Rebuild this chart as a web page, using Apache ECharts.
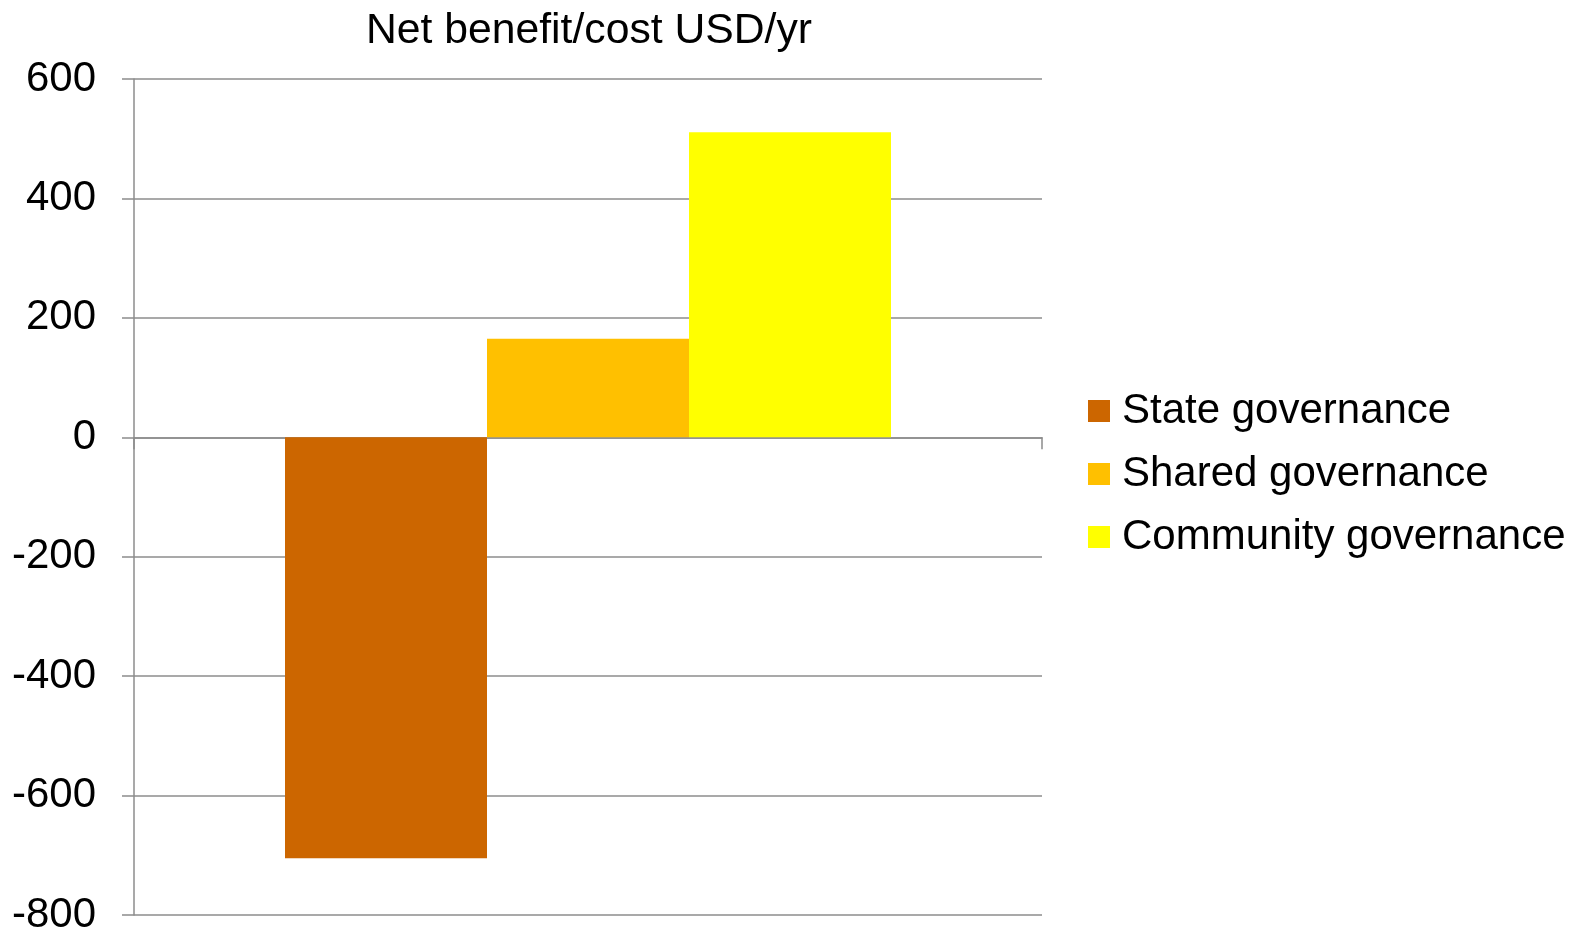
<!DOCTYPE html>
<html>
<head>
<meta charset="utf-8">
<script src="https://cdn.jsdelivr.net/npm/echarts@6/dist/echarts.min.js"></script>
<style>html,body{margin:0;padding:0;background:#fff;}#c{width:1585px;height:936px;}</style>
</head>
<body>
<div id="c"></div>
<script>
const categories = [''];
const seriesNames = ['State governance', 'Shared governance', 'Community governance'];
const stateValues = [-705];
const sharedValues = [165];
const communityValues = [511];
const colors = ['#CC6600', '#FFC000', '#FFFF00'];
const titleText = 'Net benefit/cost USD/yr';

const font = 'Liberation Sans, Arial, sans-serif';
const gray = '#8c8c8c';
const chart = echarts.init(document.getElementById('c'), null, {renderer: 'canvas'});
const allValues = [stateValues, sharedValues, communityValues];
chart.setOption({
  animation: false,
  backgroundColor: '#fff',
  title: {
    text: titleText, left: 584, top: 5, textAlign: 'center',
    textStyle: {fontFamily: font, fontSize: 42.7, fontWeight: 'normal', color: '#000'}
  },
  legend: {
    orient: 'vertical', left: 1088, top: 390, padding: 0,
    itemWidth: 22, itemHeight: 22, itemGap: 21,
    icon: 'rect',
    textStyle: {fontFamily: font, fontSize: 42, color: '#000', lineHeight: 42, padding: [0, 0, 0, 7]},
    data: seriesNames
  },
  grid: {left: 134, right: 543, top: 79, bottom: 17, containLabel: false},
  xAxis: {
    type: 'category', data: categories,
    axisLine: {onZero: true, lineStyle: {color: gray, width: 1.5}},
    axisTick: {show: true, length: 12, lineStyle: {color: gray, width: 1.5}},
    axisLabel: {show: false},
    splitLine: {show: false}
  },
  yAxis: {
    type: 'value', min: -800, max: 600, interval: 200,
    axisLine: {show: true, lineStyle: {color: gray, width: 1.5}},
    axisTick: {show: true, length: 12, inside: false, lineStyle: {color: gray, width: 1.5}},
    axisLabel: {fontFamily: font, fontSize: 42, color: '#000', margin: 38},
    splitLine: {show: true, lineStyle: {color: gray, width: 1.5}}
  },
  series: seriesNames.map((n, i) => ({
    name: n, type: 'bar', data: allValues[i],
    barWidth: 202, barGap: '0%',
    itemStyle: {color: colors[i]}
  }))
});
</script>
</body>
</html>
